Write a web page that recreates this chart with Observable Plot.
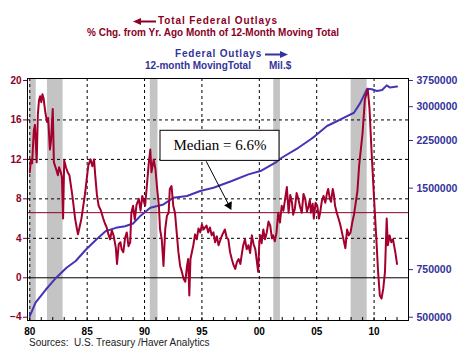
<!DOCTYPE html>
<html><head><meta charset="utf-8">
<script src="https://cdn.jsdelivr.net/npm/d3@7"></script>
<script src="https://cdn.jsdelivr.net/npm/@observablehq/plot@0.6"></script>
<style>
body{margin:0;background:#fff;}
#wrap{position:relative;width:467px;height:355px;overflow:hidden;font-family:"Liberation Sans",Arial,sans-serif;}
#chart{position:absolute;left:0;top:0;}
.t{position:absolute;white-space:nowrap;font-weight:bold;font-size:10px;line-height:12px;}
.r{color:#8B0026;}
.b{color:#33339A;}
.src{position:absolute;white-space:nowrap;font-size:10px;line-height:12px;color:#222;left:29px;top:337px;}
</style></head><body>
<div id="wrap">
<div id="chart"></div>
<div class="t r" style="left:133px;top:15px;"><svg width="23" height="9" style="vertical-align:middle"><line x1="5" y1="4.5" x2="23" y2="4.5" stroke="#8B0026" stroke-width="2"/><polygon points="0,4.5 8,1 8,8" fill="#8B0026"/></svg></div>
<div class="t r" style="left:158px;top:15px;letter-spacing:0.9px;">Total Federal Outlays</div>
<div class="t r" style="left:87px;top:27px;">% Chg. from Yr. Ago Month of 12-Month Moving Total</div>
<div class="t b" style="left:175px;top:48px;letter-spacing:0.8px;">Federal Outlays</div>
<div class="t b" style="left:265px;top:48px;"><svg width="23" height="9" style="vertical-align:middle"><line x1="0" y1="4.5" x2="18" y2="4.5" stroke="#33339A" stroke-width="2"/><polygon points="23,4.5 15,1 15,8" fill="#33339A"/></svg></div>
<div class="t b" style="left:145px;top:60px;">12-month MovingTotal</div>
<div class="t b" style="left:269px;top:60px;">Mil.$</div>
<div class="src">Sources:&nbsp; U.S. Treasury /Haver Analytics</div>
</div>
<script>
// ---- data ----
const redYears = [1980.0,1980.1,1980.2,1980.35,1980.45,1980.6,1980.7,1980.8,1980.9,1981.0,1981.1,1981.2,1981.35,1981.5,1981.6,1981.75,1981.85,1982.0,1982.1,1982.3,1982.45,1982.55,1982.7,1982.8,1982.9,1983.0,1983.15,1983.3,1983.45,1983.7,1983.95,1984.1,1984.2,1984.35,1984.5,1984.8,1985.1,1985.3,1985.45,1985.6,1985.7,1985.85,1986.0,1986.2,1986.4,1986.55,1986.7,1986.85,1987.0,1987.15,1987.3,1987.5,1987.6,1987.75,1987.9,1988.0,1988.15,1988.3,1988.45,1988.6,1988.75,1988.85,1989.0,1989.15,1989.3,1989.5,1989.65,1989.8,1990.05,1990.2,1990.35,1990.5,1990.6,1990.8,1990.95,1991.1,1991.25,1991.35,1991.5,1991.65,1991.8,1991.95,1992.1,1992.2,1992.35,1992.5,1992.65,1992.8,1992.95,1993.1,1993.25,1993.4,1993.55,1993.7,1993.8,1993.9,1994.0,1994.25,1994.4,1994.55,1994.7,1994.85,1995.0,1995.15,1995.4,1995.55,1995.7,1995.85,1996.0,1996.15,1996.3,1996.45,1996.6,1996.75,1997.0,1997.15,1997.3,1997.45,1997.6,1997.75,1997.9,1998.05,1998.2,1998.35,1998.5,1998.6,1998.75,1998.9,1999.05,1999.2,1999.35,1999.5,1999.65,1999.9,2000.0,2000.1,2000.2,2000.35,2000.5,2000.65,2000.8,2000.95,2001.1,2001.2,2001.35,2001.5,2001.65,2001.8,2001.95,2002.1,2002.25,2002.4,2002.55,2002.7,2002.85,2002.95,2003.1,2003.25,2003.4,2003.55,2003.7,2003.85,2004.0,2004.15,2004.3,2004.4,2004.5,2004.65,2004.75,2004.9,2005.05,2005.2,2005.3,2005.45,2005.6,2005.75,2005.9,2006.0,2006.15,2006.25,2006.4,2006.5,2006.6,2006.75,2006.9,2007.05,2007.2,2007.35,2007.5,2007.65,2007.8,2007.95,2008.1,2008.25,2008.4,2008.55,2008.7,2009.0,2009.2,2009.45,2009.6,2009.8,2010.0,2010.2,2010.35,2010.5,2010.65,2010.8,2010.95,2011.1,2011.2,2011.35,2011.5,2011.65,2011.85,2012.0];
const redPct = [10.7,12.0,11.6,14.9,15.5,11.7,16.5,18.0,18.4,17.8,18.6,18.2,16.8,15.8,16.2,13.0,13.9,17.1,11.7,11.0,10.4,11.2,10.7,10.2,6.0,11.9,11.2,10.7,10.4,8.4,6.0,5.0,4.4,5.2,6.0,8.4,11.4,12.0,11.3,12.0,10.4,8.4,7.3,6.8,6.0,5.5,5.1,4.4,3.9,4.8,4.3,3.0,1.4,3.4,3.6,2.9,2.6,4.0,4.6,3.2,3.6,6.6,7.3,5.9,7.4,8.0,6.8,8.3,7.3,9.3,11.4,13.0,10.7,12.0,11.0,9.0,7.3,4.9,3.9,1.2,4.9,6.3,6.6,9.0,9.3,7.3,6.6,4.6,2.6,1.2,0.6,-0.1,-0.4,1.2,1.9,-1.8,1.9,3.3,4.4,3.9,5.0,4.6,5.4,4.9,5.3,4.6,5.1,4.3,4.6,3.6,4.2,3.3,3.8,4.3,4.9,4.1,3.9,2.6,1.9,1.3,0.9,1.6,1.9,1.4,2.6,3.3,3.9,2.9,3.3,2.5,4.3,3.4,2.9,0.6,3.6,4.3,3.5,4.9,3.9,4.6,5.7,5.3,4.0,4.3,3.7,4.6,6.6,5.6,7.3,6.8,8.0,9.2,6.6,8.4,7.6,6.4,7.0,8.6,8.0,7.2,6.6,8.5,8.0,6.7,7.3,7.9,6.6,7.5,6.0,7.6,7.3,6.0,6.6,7.8,8.3,7.6,8.6,9.0,8.0,7.7,9.0,8.4,7.3,6.6,6.0,5.4,4.6,3.8,3.0,4.9,4.3,4.6,5.6,6.4,7.6,8.8,11.4,14.7,18.1,19.1,17.2,12.4,8.0,3.9,0.6,-1.8,-2.1,-1.1,0.6,6.0,3.3,4.3,3.6,3.9,2.6,1.4];

const blueYears = [1980.0,1980.5,1981.4,1982.3,1983.2,1984.0,1984.9,1985.8,1986.6,1987.5,1988.3,1989.0,1989.6,1990.5,1991.65,1992.5,1993.7,1994.85,1996.0,1997.6,1999.05,2000.1,2001.4,2001.95,2003.4,2004.45,2004.85,2005.9,2006.8,2007.65,2008.25,2008.8,2009.4,2009.8,2010.25,2010.7,2011.1,2011.4,2012.0];
const blueMil = [505000,566000,633000,700000,762000,807000,890000,969000,1040000,1070000,1085000,1110000,1180000,1270000,1306000,1382000,1403000,1464000,1505000,1594000,1686000,1735000,1862000,1943000,2115000,2270000,2336000,2546000,2656000,2770000,2849000,3100000,3497000,3480000,3429000,3460000,3596000,3530000,3560000];

const recessionStart = [1980.0, 1981.54, 1990.5, 2001.26, 2008.0];
const recessionEnd   = [1980.56, 1982.9, 1991.17, 2001.84, 2009.4];

const leftTicks = [-4, 0, 4, 8, 12, 16, 20];
const gridValues = [4, 8, 12, 16];
const rightTickValues = [500000, 750000, 1500000, 2250000, 3000000, 3750000];
const xTickYears = [1980, 1985, 1990, 1995, 2000, 2005, 2010];
const minorYears = d3.range(1980, 2013);
const median = 6.6;
const medianLabel = "Median = 6.6%";

// ---- scales / helpers ----
const xDomain = [1979.8, 2013.0];
const yDomain = [-4.33, 20.2];
const logLo = 500000, logHi = 3750000;
const toLeft = m => -4 + 24 * Math.log(m / logLo) / Math.log(logHi / logLo);

const red = redYears.map((y, i) => ({year: y, value: redPct[i]}));
const blue = blueYears.map((y, i) => ({year: y, value: toLeft(blueMil[i])}));
const recessions = recessionStart.map((s, i) => ({start: s, end: recessionEnd[i]}));
const rightTicks = rightTickValues.map(v => ({pos: toLeft(v), label: String(v)}));

const box = {x1: 1991.39, x2: 2001.76, y1: 11.85, y2: 14.9, tx: 1996.57, ty: 13.45, label: medianLabel};
const pointer = {x1: 1995.37, y1: 11.81, x2: 1997.49, y2: 7.05};

const RED = "#A3002D", REDTXT = "#8B0026", BLUE = "#4535B5", BLUETXT = "#33339A";

const chart = Plot.plot({
  width: 467, height: 355,
  marginLeft: 27, marginRight: 59, marginTop: 78, marginBottom: 35,
  style: {fontFamily: "'Liberation Sans', Arial, sans-serif", background: "transparent", fontSize: "10px"},
  x: {domain: xDomain},
  y: {domain: yDomain},
  marks: [
    Plot.rect(recessions, {x1: "start", x2: "end", fill: "#c4c4c4"}),
    Plot.ruleY(gridValues, {stroke: "black", strokeDasharray: "3,3"}),
    Plot.ruleX(xTickYears, {stroke: "black", strokeDasharray: "3,3"}),
    Plot.ruleY([0], {stroke: "black"}),
    Plot.ruleY([median], {stroke: REDTXT, strokeWidth: 1}),
    Plot.ruleX(minorYears, {y1: yDomain[0], y2: yDomain[0] + 0.3, stroke: "black"}),
    Plot.line(blue, {x: "year", y: "value", stroke: BLUE, strokeWidth: 2}),
    Plot.line(red, {x: "year", y: "value", stroke: RED, strokeWidth: 2}),
    Plot.rect([box], {x1: "x1", x2: "x2", y1: "y1", y2: "y2", fill: "white", stroke: "black"}),
    Plot.text([box], {x: "tx", y: "ty", text: "label", fontFamily: "'Liberation Serif', 'Times New Roman', serif", fontSize: 15, fill: "black"}),
    Plot.link([pointer], {x1: "x1", y1: "y1", x2: "x2", y2: "y2", stroke: "black", strokeWidth: 1}),
    Plot.dot([pointer], {x: "x2", y: "y2", symbol: "triangle", r: 3.2, fill: "black", stroke: "none", rotate: 153, dx: -1.4, dy: -2.7}),
    Plot.frame({stroke: "black"}),
    Plot.axisY({anchor: "left", ticks: leftTicks, tickSize: 4, tickPadding: 2, color: REDTXT, fontWeight: "bold", fontSize: 10, label: null}),
    Plot.axisY({anchor: "right", ticks: rightTicks.map(d => d.pos), tickSize: 4, tickPadding: 4, color: BLUETXT, fontWeight: "bold", fontSize: 10.5, label: null,
      tickFormat: d => { const t = rightTicks.find(r => Math.abs(r.pos - d) < 1e-9); return t ? t.label : ""; }}),
    Plot.axisX({ticks: xTickYears, tickSize: 0, tickPadding: 7, tickFormat: d => String(d).slice(2), fontWeight: "bold", fontSize: 10, label: null})
  ]
});
document.getElementById("chart").appendChild(chart);
</script>
</body></html>
